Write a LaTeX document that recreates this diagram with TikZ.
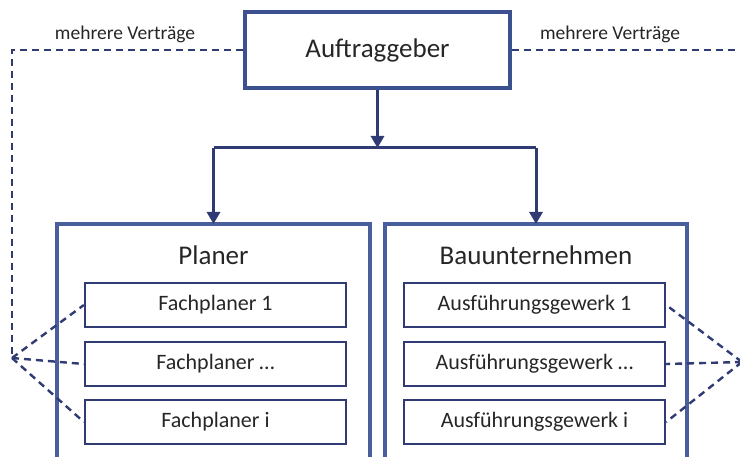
\documentclass[tikz,border=0pt]{standalone}
\usepackage{fontspec}
\setmainfont{Carlito}
\usetikzlibrary{arrows.meta}
\definecolor{navy}{HTML}{2F3B72}
\definecolor{frameblue}{HTML}{4A5E9E}
\definecolor{topblue}{HTML}{3C4F8E}
\definecolor{txt}{HTML}{262626}
\tikzset{
  topbox/.style={draw=topblue, line width=3.2pt, minimum width=265pt, minimum height=76pt, inner sep=0pt, font=\fontsize{27}{30}\selectfont, text=txt},
  groupbox/.style={draw=frameblue, line width=3.2pt},
  grouptitle/.style={font=\fontsize{27}{30}\selectfont, text=txt, inner sep=0pt},
  itembox/.style={draw=navy, line width=2.3pt, minimum width=261pt, minimum height=44pt, inner sep=0pt, font=\fontsize{22}{24}\selectfont, text=txt},
  contract/.style={draw=navy, line width=2.4pt, dash pattern=on 7pt off 5pt},
  flow/.style={draw=navy, line width=3pt},
  flowarrow/.style={flow, -{Triangle[length=12pt,width=13pt]}},
  note/.style={font=\fontsize{19.5}{21}\selectfont, text=txt, inner sep=0pt}
}
\begin{document}
\begin{tikzpicture}[x=1pt,y=-1pt]
\useasboundingbox (0,0) rectangle (740,457);
\clip (0,0) rectangle (740,457);

% client
\node[topbox] (ag) at (377.5,50) {Auftraggeber};

% contract groups
\draw[groupbox] (57,470) |- (370,224) -- (370,470);
\draw[groupbox] (385,470) |- (687,224) -- (687,470);
\coordinate (planer) at (213.5,224);
\coordinate (bau) at (536,224);
\node[grouptitle] (tp) at (213.5,255) {Planer};
\node[grouptitle] (tb) at (536,255) {Bauunternehmen};

% individual contractors
\node[itembox] (f1) at (215.5,305) {Fachplaner 1};
\node[itembox] (f2) at (215.5,364) {Fachplaner \dots};
\node[itembox] (f3) at (215.5,422) {Fachplaner i};
\node[itembox] (a1) at (534.5,305) {Ausführungsgewerk 1};
\node[itembox] (a2) at (534.5,364) {Ausführungsgewerk \dots};
\node[itembox] (a3) at (534.5,422) {Ausführungsgewerk i};

% hierarchy arrows
\coordinate (split) at (377.5,148);
\coordinate (sl) at (213.5,148);
\coordinate (sr) at (536,148);
\draw[flowarrow] (ag.south) -- (split);
\draw[flow] (sl) -- (sr);
\draw[flowarrow] (sl) -- (planer);
\draw[flowarrow] (sr) -- (bau);

% multiple contracts (dashed)
\coordinate (lhub) at (12,358);
\coordinate (rhub) at (742,362);
\coordinate (lcorner) at (12,50);
\coordinate (rcorner) at (742,50);
\draw[contract] (ag.west) -- (lcorner) -- (lhub);
\draw[contract] (ag.east) -- (rcorner) -- (rhub);
\draw[contract] (lhub) -- (f1.west);
\draw[contract] (lhub) -- (f2.west);
\draw[contract] (lhub) -- (f3.west);
\draw[contract] (rhub) -- (a1.east);
\draw[contract] (rhub) -- (a2.east);
\draw[contract] (rhub) -- (a3.east);

\node[note] (n1) at (125,34) {mehrere Verträge};
\node[note] (n2) at (610,34) {mehrere Verträge};
\end{tikzpicture}
\end{document}
